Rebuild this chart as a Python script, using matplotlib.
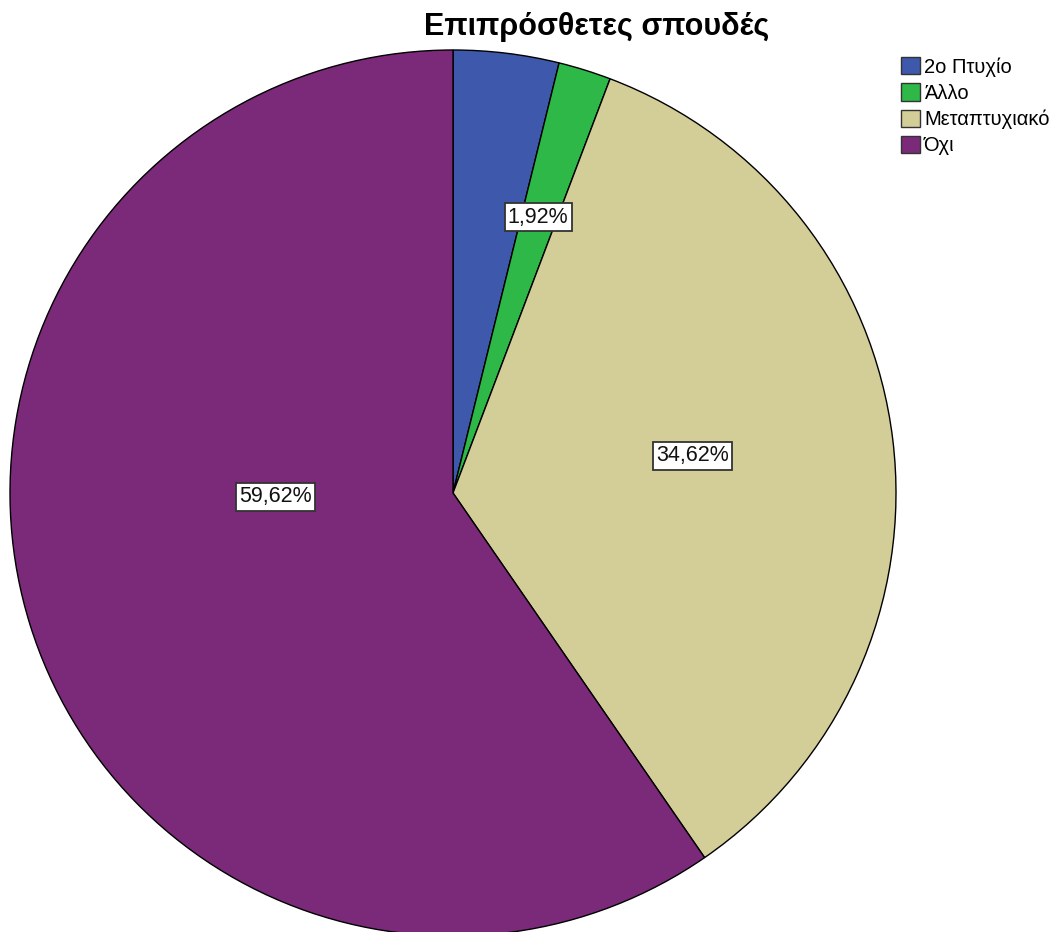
import matplotlib.pyplot as plt
from matplotlib.patches import Patch

plt.rcParams['font.family'] = ['Liberation Sans', 'DejaVu Sans']

# Additional studies, percentage of respondents
categories = ['2ο Πτυχίο', 'Άλλο', 'Μεταπτυχιακό', 'Όχι']
percents = [3.85, 1.92, 34.62, 59.62]
colors = ['#3E58AC', '#2EB848', '#D3CE97', '#7B2A7A']
# which slices carry a value box, and where (in pie-radius units)
show_label = [False, True, True, True]
label_xy = [(0, 0), (0.192, 0.623), (0.540, 0.084), (-0.40, -0.009)]

W, H = 1058, 932
fig = plt.figure(figsize=(W / 100, H / 100), dpi=100)

cx, cy, r = 453, 493, 443
ax = fig.add_axes([(cx - r) / W, (H - cy - r) / H, 2 * r / W, 2 * r / H])

wedges, _ = ax.pie(percents, colors=colors, startangle=90, counterclock=False,
                   radius=1.0, wedgeprops=dict(edgecolor='black', linewidth=1.0))
ax.set_xlim(-1, 1)
ax.set_ylim(-1, 1)
ax.set_aspect('equal')
ax.axis('off')

for pct, show, (lx, ly) in zip(percents, show_label, label_xy):
    if not show:
        continue
    txt = f'{pct:.2f}%'.replace('.', ',')
    ax.text(lx, ly, txt, ha='center', va='center', fontsize=15.5, color='#111111',
            bbox=dict(boxstyle='square,pad=0.15', facecolor='white',
                      edgecolor='#333333', linewidth=1.3))

fig.text(597 / W, 1 - 27 / H, 'Επιπρόσθετες σπουδές', ha='center', va='center',
         fontsize=22, fontweight='bold')

handles = [Patch(facecolor=c, edgecolor='#333333', linewidth=1.0) for c in colors]
fig.legend(handles, categories, loc='upper left', bbox_to_anchor=(901 / W, 1 - 57 / H),
           frameon=False, fontsize=14.5, handlelength=0.95, handleheight=0.95,
           handletextpad=0.2, labelspacing=0.33, borderpad=0, borderaxespad=0)

fig.savefig('out.png', dpi=100)
